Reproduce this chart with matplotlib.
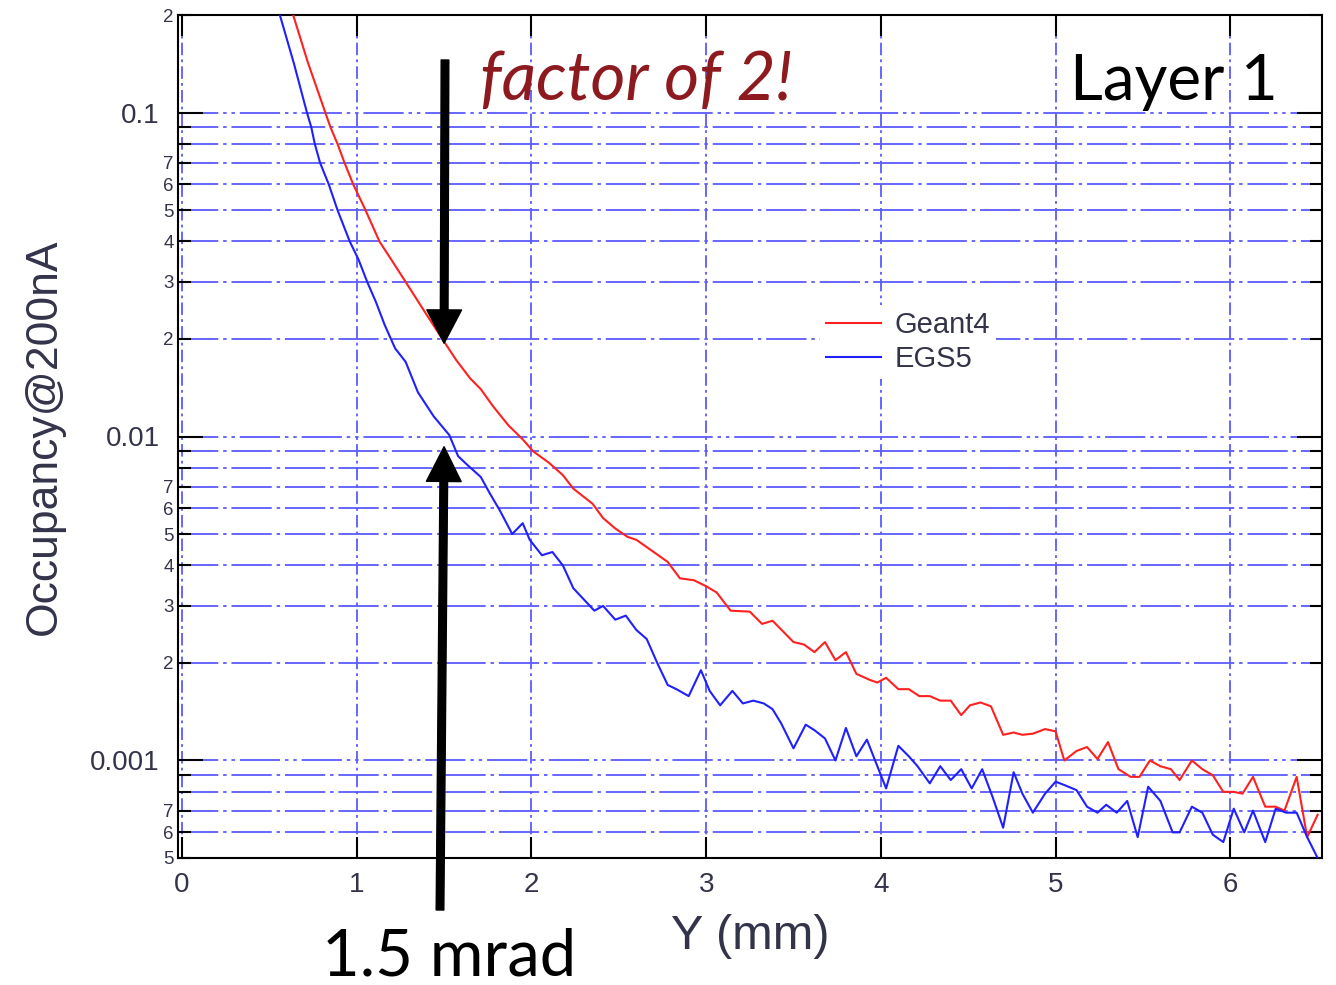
import numpy as np
import matplotlib
matplotlib.use('Agg')
import matplotlib.pyplot as plt
from matplotlib.ticker import FixedLocator, FixedFormatter, LogLocator, FuncFormatter

plt.rcParams['lines.scale_dashes'] = False
plt.rcParams['font.family'] = ['Liberation Sans', 'DejaVu Sans']

# Geant4 (red)
g4_x = [0.63, 0.72, 0.82, 0.85, 0.89, 0.93, 0.98, 1.05, 1.13, 1.20, 1.28, 1.38, 1.49, 1.57, 1.65,
        1.71, 1.78, 1.87, 1.95, 2.01, 2.10, 2.18, 2.24, 2.35, 2.41, 2.48, 2.55, 2.60, 2.70, 2.78,
        2.85, 2.93, 3.00, 3.06, 3.14, 3.25, 3.32, 3.38, 3.50, 3.56, 3.62, 3.68, 3.74, 3.80, 3.86,
        3.94, 3.98, 4.03, 4.10, 4.16, 4.22, 4.28, 4.34, 4.40, 4.46, 4.51, 4.57, 4.63, 4.70, 4.76,
        4.81, 4.87, 4.94, 5.00, 5.05, 5.12, 5.18, 5.24, 5.30, 5.36, 5.43, 5.48, 5.54, 5.60, 5.66,
        5.71, 5.78, 5.84, 5.90, 5.96, 6.02, 6.07, 6.13, 6.20, 6.26, 6.31, 6.38, 6.44, 6.50]
g4_y = [0.205, 0.143, 0.100, 0.090, 0.080, 0.070, 0.060, 0.050, 0.040, 0.035, 0.030, 0.0247, 0.020,
        0.0172, 0.0151, 0.0140, 0.0124, 0.0108, 0.0098, 0.0090, 0.0083, 0.0076, 0.0069, 0.0062,
        0.0056, 0.0052, 0.0049, 0.0048, 0.0044, 0.0041, 0.00365, 0.0036, 0.00345, 0.0033, 0.0029,
        0.00288, 0.00264, 0.0027, 0.00232, 0.00228, 0.00216, 0.00232, 0.00204, 0.00216, 0.00185,
        0.00177, 0.00174, 0.0018, 0.00166, 0.00166, 0.00158, 0.00158, 0.00153, 0.00153, 0.00138,
        0.00148, 0.00151, 0.00147, 0.0012, 0.00122, 0.0012, 0.00121, 0.00125, 0.00123, 0.0010,
        0.00107, 0.0011, 0.00101, 0.00114, 0.00094, 0.00089, 0.00089, 0.0010, 0.00096, 0.00094,
        0.00087, 0.0010, 0.00094, 0.0009, 0.0008, 0.0008, 0.00079, 0.00089, 0.00072, 0.00072,
        0.0007, 0.00089, 0.00058, 0.00068]

# EGS5 (blue)
egs_x = [0.56, 0.64, 0.715, 0.74, 0.76, 0.79, 0.84, 0.89, 0.96, 1.01, 1.06, 1.11, 1.16, 1.22, 1.28,
         1.35, 1.44, 1.53, 1.58, 1.63, 1.71, 1.76, 1.82, 1.89, 1.95, 1.99, 2.06, 2.12, 2.18, 2.24,
         2.30, 2.36, 2.41, 2.48, 2.54, 2.60, 2.66, 2.72, 2.78, 2.83, 2.90, 2.97, 3.02, 3.08, 3.15,
         3.21, 3.27, 3.33, 3.38, 3.43, 3.50, 3.57, 3.62, 3.68, 3.74, 3.80, 3.86, 3.92, 3.98, 4.03,
         4.10, 4.16, 4.21, 4.28, 4.34, 4.40, 4.46, 4.52, 4.58, 4.64, 4.70, 4.76, 4.81, 4.87, 4.94,
         5.00, 5.05, 5.12, 5.18, 5.24, 5.29, 5.35, 5.41, 5.47, 5.53, 5.60, 5.67, 5.71, 5.78, 5.84,
         5.90, 5.96, 6.02, 6.08, 6.13, 6.20, 6.26, 6.32, 6.38, 6.44, 6.50]
egs_y = [0.20, 0.142, 0.100, 0.090, 0.080, 0.070, 0.060, 0.050, 0.040, 0.0352, 0.030, 0.026, 0.0221,
         0.0187, 0.0170, 0.0137, 0.01155, 0.0101, 0.0087, 0.0082, 0.0075, 0.0067, 0.0059, 0.0050,
         0.0054, 0.0048, 0.0043, 0.0044, 0.0040, 0.0034, 0.00314, 0.0029, 0.0030, 0.00272, 0.0028,
         0.00253, 0.00237, 0.0020, 0.00171, 0.00166, 0.00158, 0.0019, 0.00164, 0.00148, 0.00164,
         0.0015, 0.00153, 0.0015, 0.00144, 0.0013, 0.00109, 0.00129, 0.00124, 0.00117, 0.0010,
         0.00126, 0.00103, 0.00116, 0.00096, 0.00082, 0.00111, 0.00103, 0.00096, 0.00085, 0.00096,
         0.00087, 0.00094, 0.00082, 0.00094, 0.00077, 0.00062, 0.00092, 0.00079, 0.00069, 0.00079,
         0.00086, 0.00084, 0.00081, 0.00072, 0.00069, 0.00073, 0.00069, 0.00075, 0.00058, 0.00083,
         0.00075, 0.0006, 0.0006, 0.00072, 0.00069, 0.00059, 0.00056, 0.00071, 0.0006, 0.0007,
         0.00056, 0.00071, 0.00069, 0.00069, 0.00058, 0.0005]

x_ticks = [0, 1, 2, 3, 4, 5, 6]
y_major = [0.001, 0.01, 0.1]
y_major_labels = ['0.001', '0.01', '0.1']

grid_col = '#5a5aff'
lab_col = '#33334a'

fig = plt.figure(figsize=(13.36, 9.85), dpi=100)
ax = fig.add_axes([178/1336, 1-858/985, 1144/1336, 843/985])

ax.plot(g4_x, g4_y, color='#ff2020', lw=1.5, label='Geant4', zorder=3)
ax.plot(egs_x, egs_y, color='#2020ff', lw=1.5, label='EGS5', zorder=3)

ax.set_yscale('log')
ax.set_xlim(-0.023, 6.525)
ax.set_ylim(5e-4, 0.2)

ax.xaxis.set_major_locator(FixedLocator(x_ticks))
ax.yaxis.set_major_locator(FixedLocator(y_major))
ax.yaxis.set_major_formatter(FixedFormatter(y_major_labels))
ax.yaxis.set_minor_locator(LogLocator(base=10, subs=np.arange(2, 10)))

def minor_fmt(v, pos):
    m = int(round(v / 10**np.floor(np.log10(v) + 1e-9)))
    return str(m) if 2 <= m <= 7 else ''

ax.yaxis.set_minor_formatter(FuncFormatter(minor_fmt))

ax.yaxis.grid(True, which='major', color=grid_col, lw=1.3, linestyle=(0, (29, 3.5, 2.5, 3.5, 2.5, 3.5)))
ax.yaxis.grid(True, which='minor', color=grid_col, lw=1.3, linestyle=(0, (29, 3.5, 2.5, 3.5)))
ax.xaxis.grid(True, which='major', color=grid_col, lw=1.3, linestyle=(0, (9, 3, 2, 3)))

ax.tick_params(which='both', direction='in', top=True, right=True, width=1.5, colors='black',
               labelcolor=lab_col)
ax.tick_params(axis='x', which='major', length=15, labelsize=20, pad=10)
ax.tick_params(axis='y', which='major', length=18, labelsize=20, pad=13)
ax.tick_params(axis='y', which='minor', length=9, labelsize=13.5, pad=3)
for s in ax.spines.values():
    s.set_linewidth(1.5)

ax.set_xlabel('Y (mm)', fontsize=35, color=lab_col)
ax.xaxis.set_label_coords(0.5, -0.066)
ax.set_ylabel('Occupancy@200nA', fontsize=32, color=lab_col)
ax.yaxis.set_label_coords(-0.099, 0.5)

leg = ax.legend(loc='upper left', bbox_to_anchor=((820-178)/1144, (858-305)/843), fontsize=21,
                frameon=True, facecolor='white', edgecolor='none', framealpha=1, fancybox=False,
                handlelength=1.9, handletextpad=0.45, labelspacing=0.22, borderpad=0.2,
                borderaxespad=0)
leg.set_zorder(5)
for t in leg.get_texts():
    t.set_color(lab_col)

# arrows
ax.annotate('', xy=(1.5, 0.0194), xycoords='data', xytext=(445, 985-60), textcoords='figure pixels',
            arrowprops=dict(facecolor='black', edgecolor='black', width=5.5, headwidth=25,
                            headlength=24, shrink=0), annotation_clip=False, zorder=6)
ax.annotate('', xy=(1.5, 0.0093), xycoords='data', xytext=(440, 985-910), textcoords='figure pixels',
            arrowprops=dict(facecolor='black', edgecolor='black', width=5.5, headwidth=25,
                            headlength=25, shrink=0), annotation_clip=False, zorder=6)

fig.text(480/1336, 1-100/985, 'factor of 2!', fontsize=48.5, color='#8c1a1f', style='italic',
         family=['Lato', 'DejaVu Sans'], va='baseline', ha='left')
fig.text(1070/1336, 1-100/985, 'Layer 1', fontsize=46, color='black',
         family=['Lato', 'DejaVu Sans'], va='baseline', ha='left')
fig.text(322/1336, 1-975/985, '1.5 mrad', fontsize=47, color='black',
         family=['Lato', 'DejaVu Sans'], va='baseline', ha='left')

fig.savefig('out.png', dpi=100)
